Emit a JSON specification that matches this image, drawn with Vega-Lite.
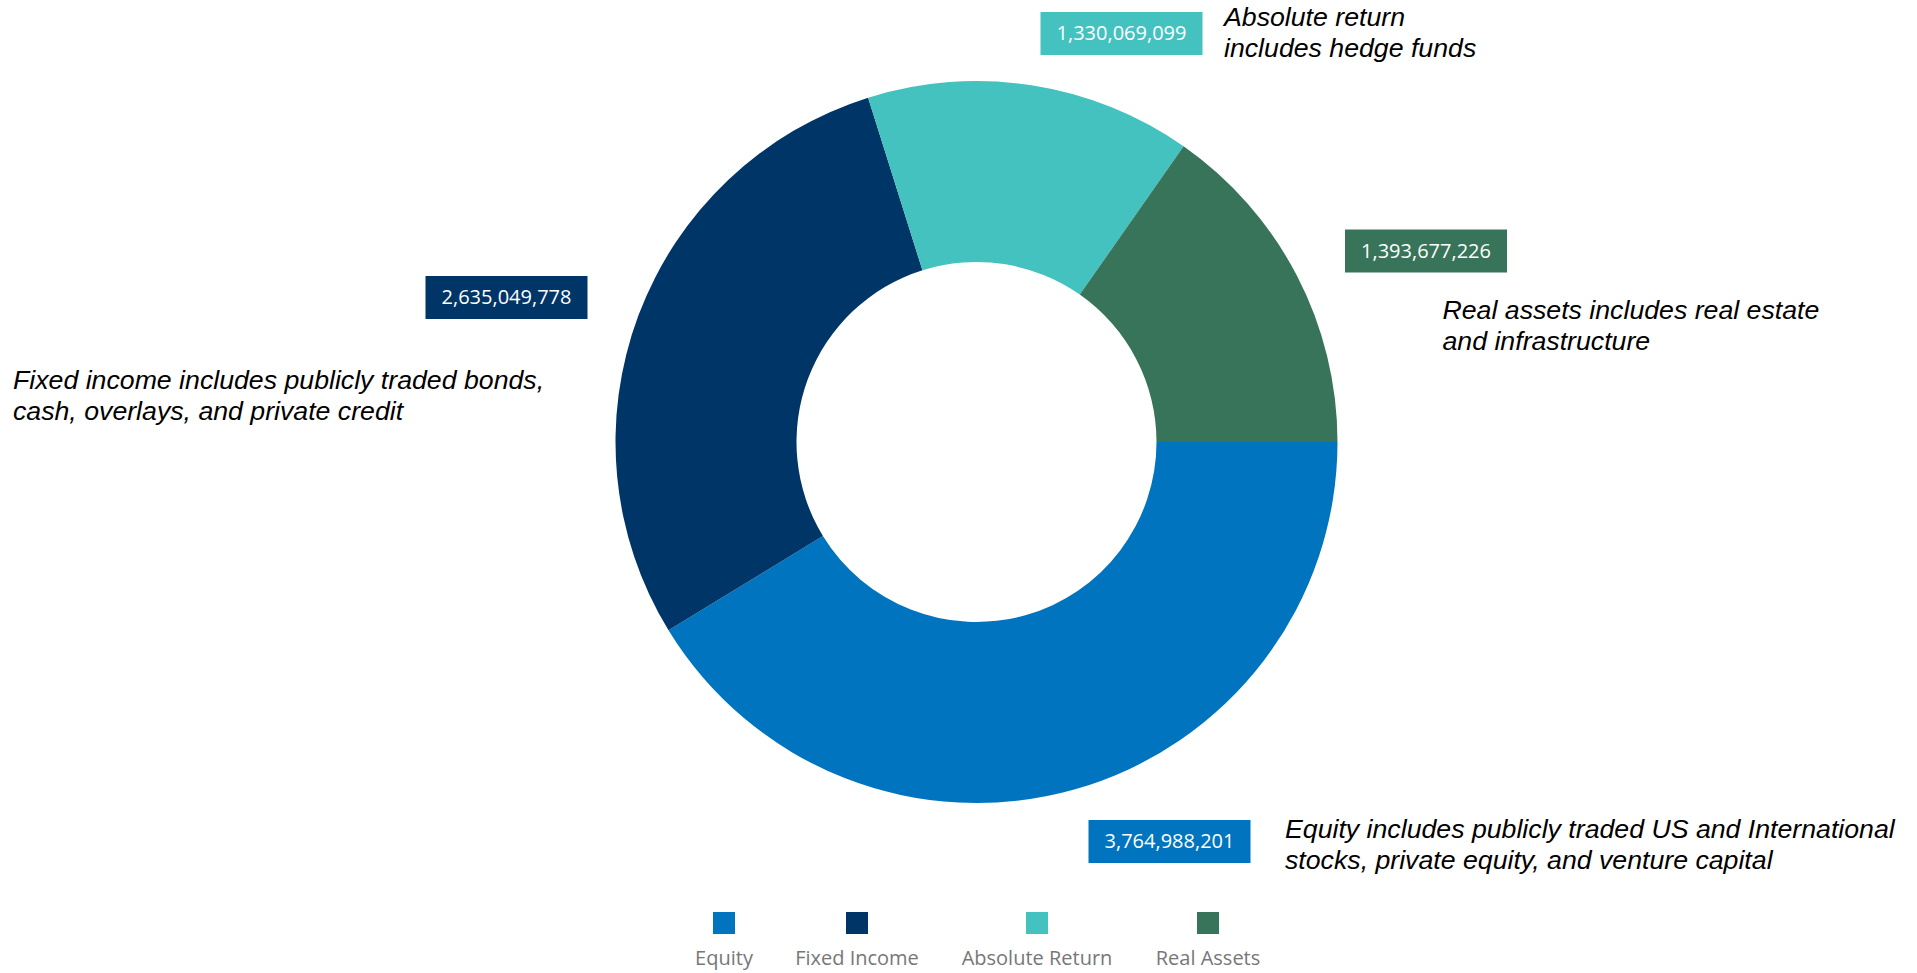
{
  "$schema": "https://vega.github.io/schema/vega-lite/v6.json",
  "width": 1881,
  "height": 884,
  "autosize": "none",
  "padding": {"left": 36, "top": 0, "right": 0, "bottom": 89},
  "background": "white",
  "config": {"view": {"stroke": null}},
  "data": {
    "values": [
      {"category": "Equity", "value": 3764988201, "order": 1, "note": "Equity includes publicly traded US and International\nstocks, private equity, and venture capital"},
      {"category": "Fixed Income", "value": 2635049778, "order": 2, "note": "Fixed income includes publicly traded bonds,\ncash, overlays, and private credit"},
      {"category": "Absolute Return", "value": 1330069099, "order": 3, "note": "Absolute return\nincludes hedge funds"},
      {"category": "Real Assets", "value": 1393677226, "order": 4, "note": "Real assets includes real estate\nand infrastructure"}
    ]
  },
  "encoding": {
    "color": {
      "field": "category",
      "type": "nominal",
      "scale": {
        "domain": ["Equity", "Fixed Income", "Absolute Return", "Real Assets"],
        "range": ["#0074BE", "#003567", "#44C2C0", "#38745A"]
      },
      "legend": {
        "orient": "none",
        "direction": "horizontal",
        "legendX": 677,
        "legendY": 912,
        "title": null,
        "symbolType": "square",
        "symbolSize": 484,
        "symbolStrokeWidth": 0,
        "symbolOpacity": 1,
        "labelFont": "Open Sans",
        "labelFontSize": 20,
        "labelColor": "#777777",
        "labelAlign": "center",
        "labelOffset": -11,
        "labelLimit": 300,
        "columnPadding": 42,
        "encode": {"labels": {"update": {"dy": {"value": 36}}}}
      }
    }
  },
  "layer": [
    {
      "mark": {"type": "arc", "innerRadius": 180, "outerRadius": 361, "stroke": null},
      "encoding": {
        "theta": {"field": "value", "type": "quantitative", "stack": true, "scale": {"range": [1.5707963, 7.8539816]}},
        "order": {"field": "order", "type": "quantitative"}
      }
    },
    {
      "transform": [{"filter": "datum.category == 'Equity'"}],
      "layer": [
        {"mark": {"type": "point", "shape": "M-1,-0.265H1V0.265H-1Z", "size": 26244, "filled": true, "opacity": 1, "strokeWidth": 0, "xOffset": 193, "yOffset": 399.5}},
        {"mark": {"type": "text", "font": "Open Sans", "fontSize": 20, "align": "center", "baseline": "middle", "xOffset": 193, "yOffset": 400}, "encoding": {"color": {"value": "white"}, "text": {"field": "value", "type": "quantitative", "format": ",d"}}},
        {"mark": {"type": "text", "font": "Liberation Sans", "fontStyle": "italic", "fontSize": 26.7, "lineHeight": 31, "lineBreak": "\n", "align": "left", "baseline": "alphabetic", "xOffset": 308.5, "yOffset": 396}, "encoding": {"color": {"value": "black"}, "text": {"field": "note", "type": "nominal"}}}
      ]
    },
    {
      "transform": [{"filter": "datum.category == 'Fixed Income'"}],
      "layer": [
        {"mark": {"type": "point", "shape": "M-1,-0.265H1V0.265H-1Z", "size": 26244, "filled": true, "opacity": 1, "strokeWidth": 0, "xOffset": -470, "yOffset": -144.5}},
        {"mark": {"type": "text", "font": "Open Sans", "fontSize": 20, "align": "center", "baseline": "middle", "xOffset": -470, "yOffset": -144}, "encoding": {"color": {"value": "white"}, "text": {"field": "value", "type": "quantitative", "format": ",d"}}},
        {"mark": {"type": "text", "font": "Liberation Sans", "fontStyle": "italic", "fontSize": 26.7, "lineHeight": 31, "lineBreak": "\n", "align": "left", "baseline": "alphabetic", "xOffset": -963.5, "yOffset": -53}, "encoding": {"color": {"value": "black"}, "text": {"field": "note", "type": "nominal"}}}
      ]
    },
    {
      "transform": [{"filter": "datum.category == 'Absolute Return'"}],
      "layer": [
        {"mark": {"type": "point", "shape": "M-1,-0.265H1V0.265H-1Z", "size": 26244, "filled": true, "opacity": 1, "strokeWidth": 0, "xOffset": 145, "yOffset": -408.5}},
        {"mark": {"type": "text", "font": "Open Sans", "fontSize": 20, "align": "center", "baseline": "middle", "xOffset": 145, "yOffset": -408}, "encoding": {"color": {"value": "white"}, "text": {"field": "value", "type": "quantitative", "format": ",d"}}},
        {"mark": {"type": "text", "font": "Liberation Sans", "fontStyle": "italic", "fontSize": 26.7, "lineHeight": 31, "lineBreak": "\n", "align": "left", "baseline": "alphabetic", "xOffset": 247.5, "yOffset": -416.5}, "encoding": {"color": {"value": "black"}, "text": {"field": "note", "type": "nominal"}}}
      ]
    },
    {
      "transform": [{"filter": "datum.category == 'Real Assets'"}],
      "layer": [
        {"mark": {"type": "point", "shape": "M-1,-0.265H1V0.265H-1Z", "size": 26244, "filled": true, "opacity": 1, "strokeWidth": 0, "xOffset": 449.5, "yOffset": -191}},
        {"mark": {"type": "text", "font": "Open Sans", "fontSize": 20, "align": "center", "baseline": "middle", "xOffset": 449.5, "yOffset": -190.5}, "encoding": {"color": {"value": "white"}, "text": {"field": "value", "type": "quantitative", "format": ",d"}}},
        {"mark": {"type": "text", "font": "Liberation Sans", "fontStyle": "italic", "fontSize": 26.7, "lineHeight": 31, "lineBreak": "\n", "align": "left", "baseline": "alphabetic", "xOffset": 466, "yOffset": -123.5}, "encoding": {"color": {"value": "black"}, "text": {"field": "note", "type": "nominal"}}}
      ]
    }
  ]
}
